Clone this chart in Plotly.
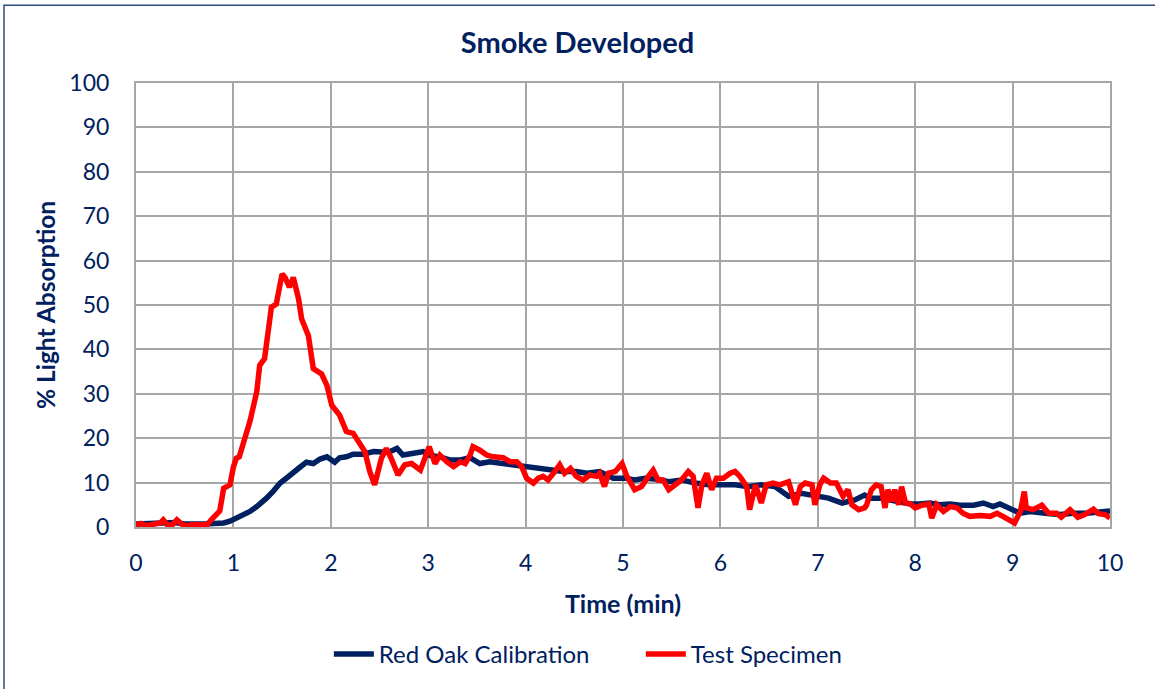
import plotly.graph_objects as go

# Red Oak Calibration
oak_t = [0.0, 0.1, 0.2, 0.3, 0.4, 0.5, 0.6, 0.7, 0.8, 0.9, 0.965, 1.07, 1.17, 1.24, 1.29, 1.34, 1.41, 1.48,
         1.55, 1.615, 1.68, 1.75, 1.82, 1.89, 1.96, 2.04, 2.09, 2.16, 2.23, 2.33, 2.44, 2.52, 2.61, 2.68,
         2.74, 2.85, 2.95, 3.02, 3.12, 3.22, 3.33, 3.43, 3.53, 3.63, 3.77, 3.87, 3.98, 4.08, 4.18, 4.28,
         4.39, 4.52, 4.63, 4.76, 4.90, 5.02, 5.12, 5.23, 5.33, 5.47, 5.60, 5.74, 5.88, 6.01, 6.15, 6.29,
         6.42, 6.56, 6.70, 6.83, 6.97, 7.11, 7.25, 7.38, 7.48, 7.54, 7.64, 7.74, 7.84, 7.95, 8.05, 8.15,
         8.25, 8.36, 8.46, 8.60, 8.70, 8.80, 8.87, 8.97, 9.08, 9.18, 9.28, 9.38, 9.49, 9.62, 9.76, 9.90, 10.0]
oak_v = [0.7, 0.8, 0.6, 0.9, 1.0, 0.7, 0.6, 0.7, 0.8, 0.9, 1.3, 2.4, 3.5, 4.6, 5.4, 6.5, 8.1, 9.9,
         11.1, 12.1, 13.4, 14.6, 14.3, 15.3, 15.8, 14.6, 15.6, 15.8, 16.4, 16.4, 17.0, 16.9, 17.0, 17.7,
         16.2, 16.6, 17.0, 16.1, 15.8, 15.1, 15.1, 15.6, 14.3, 14.7, 14.3, 14.0, 13.6, 13.2, 13.2, 12.8,
         12.5, 12.5, 12.1, 12.5, 11.0, 11.0, 10.6, 11.0, 10.8, 10.2, 10.6, 9.9, 9.5, 9.5, 9.5, 9.1,
         9.5, 9.1, 6.9, 7.6, 7.2, 6.5, 5.4, 6.1, 7.2, 6.5, 6.5, 6.1, 5.8, 5.2, 5.2, 5.4,
         5.0, 5.2, 4.9, 4.9, 5.4, 4.6, 5.2, 4.3, 3.1, 3.5, 3.1, 3.0, 2.8, 3.1, 3.1, 3.4, 3.6]

# Test Specimen
spec_t = [0.0, 0.05, 0.1, 0.15, 0.2, 0.25, 0.28, 0.32, 0.37, 0.42, 0.47, 0.52, 0.58, 0.63, 0.68, 0.73,
          0.78, 0.83, 0.86, 0.9, 0.965, 1.0, 1.03, 1.06, 1.12, 1.17, 1.24, 1.27, 1.32, 1.36, 1.39, 1.44,
          1.5, 1.53, 1.575, 1.615, 1.67, 1.70, 1.77, 1.82, 1.905, 1.96, 2.01, 2.09, 2.16, 2.23, 2.30,
          2.35, 2.40, 2.45, 2.52, 2.57, 2.62, 2.69, 2.76, 2.83, 2.92, 2.95, 3.01, 3.07, 3.12, 3.19, 3.26,
          3.33, 3.38, 3.43, 3.46, 3.53, 3.60, 3.67, 3.77, 3.84, 3.91, 3.96, 4.01, 4.08, 4.13, 4.18, 4.23,
          4.30, 4.35, 4.40, 4.46, 4.52, 4.59, 4.66, 4.73, 4.76, 4.81, 4.85, 4.92, 4.99, 5.04, 5.12, 5.19,
          5.26, 5.31, 5.36, 5.41, 5.47, 5.53, 5.60, 5.67, 5.72, 5.77, 5.81, 5.86, 5.91, 5.96, 6.03, 6.10,
          6.15, 6.20, 6.27, 6.30, 6.36, 6.42, 6.47, 6.54, 6.61, 6.70, 6.77, 6.82, 6.87, 6.94, 6.97, 7.02,
          7.06, 7.13, 7.19, 7.26, 7.31, 7.35, 7.42, 7.48, 7.50, 7.55, 7.60, 7.65, 7.69, 7.72, 7.76, 7.79,
          7.83, 7.86, 7.90, 7.95, 8.00, 8.07, 8.14, 8.17, 8.22, 8.29, 8.36, 8.43, 8.49, 8.56, 8.67, 8.77,
          8.84, 8.90, 8.97, 9.02, 9.08, 9.12, 9.14, 9.21, 9.30, 9.37, 9.45, 9.50, 9.59, 9.67, 9.74, 9.83,
          9.88, 9.95, 10.0]
spec_v = [0.4, 0.8, 0.3, 0.5, 0.4, 0.9, 1.6, 0.5, 0.4, 1.6, 0.6, 0.3, 0.5, 0.4, 0.6, 0.5,
          1.8, 2.8, 3.6, 8.7, 9.5, 13.5, 15.5, 15.8, 20.0, 23.8, 30.5, 36.4, 37.9, 45.4, 49.5, 50.2,
          57.0, 56.2, 54.0, 56.2, 51.3, 46.9, 43.1, 35.7, 34.5, 31.9, 27.4, 25.2, 21.5, 21.1, 18.5,
          17.0, 12.5, 9.5, 15.5, 17.7, 15.5, 11.7, 14.0, 14.3, 12.8, 14.7, 18.1, 14.3, 16.2, 14.7, 13.6,
          14.7, 14.3, 16.2, 18.1, 17.3, 16.2, 15.8, 15.6, 14.7, 14.7, 13.6, 11.0, 9.9, 11.0, 11.4, 10.6,
          12.5, 14.0, 12.1, 13.2, 11.4, 10.6, 11.7, 11.4, 12.1, 9.1, 12.1, 12.5, 14.3, 11.4, 8.4, 9.1,
          11.4, 12.8, 10.6, 10.6, 8.4, 9.5, 10.6, 12.5, 11.4, 4.3, 9.5, 12.1, 8.4, 11.0, 11.0, 12.1,
          12.5, 11.4, 9.1, 3.9, 9.5, 5.4, 9.5, 9.9, 9.5, 10.2, 5.0, 9.1, 9.9, 9.5, 5.0, 9.5,
          11.0, 9.9, 9.9, 6.9, 8.4, 5.0, 3.9, 4.3, 4.9, 8.4, 9.5, 9.1, 4.3, 8.4, 5.8, 8.4,
          5.0, 9.1, 5.4, 5.2, 4.3, 4.9, 5.2, 2.0, 5.0, 3.5, 4.6, 4.3, 3.1, 2.4, 2.6, 2.4,
          3.1, 2.4, 1.6, 0.9, 3.5, 8.0, 4.3, 3.9, 4.9, 3.1, 3.1, 2.2, 3.9, 2.2, 2.8, 4.0,
          3.0, 2.8, 2.0]

x_ticks = [0, 1, 2, 3, 4, 5, 6, 7, 8, 9, 10]
y_ticks = [0, 10, 20, 30, 40, 50, 60, 70, 80, 90, 100]

NAVY = "#002060"
RED = "#FF0000"
GRID = "#A6A6A6"
FONT = "Lato"

fig = go.Figure()
fig.add_trace(go.Scatter(x=oak_t, y=oak_v, mode="lines", name="Red Oak Calibration",
                         line=dict(color=NAVY, width=5.5)))
fig.add_trace(go.Scatter(x=spec_t, y=spec_v, mode="lines", name="Test Specimen",
                         line=dict(color=RED, width=5.5)))

fig.update_layout(
    width=1155, height=689,
    margin=dict(l=136, r=45, t=83, b=160),
    paper_bgcolor="white", plot_bgcolor="white",
    font=dict(family=FONT, color=NAVY, size=23),
    title=dict(text="<b>Smoke Developed</b>", x=0.5, xref="container", xanchor="center",
               y=1 - 43 / 689, yref="container", yanchor="middle",
               font=dict(family=FONT, size=29, color=NAVY)),
    showlegend=True,
    legend=dict(orientation="h", x=0.198, xanchor="left", y=-0.287, yanchor="middle",
                font=dict(family=FONT, size=24, color=NAVY), itemwidth=40,
                tracegroupgap=0, entrywidthmode="pixels", entrywidth=257),
)
fig.update_xaxes(
    range=[0, 10], tickvals=x_ticks, ticktext=[str(v) for v in x_ticks],
    showgrid=True, gridcolor=GRID, gridwidth=2,
    showline=True, linecolor=GRID, linewidth=2, mirror=True,
    ticks="", zeroline=False, ticklabelstandoff=14,
    tickfont=dict(family=FONT, size=23, color=NAVY),
    title=dict(text="<b>Time (min)</b>", standoff=21,
               font=dict(family=FONT, size=25, color=NAVY)),
)
fig.update_yaxes(
    range=[0, 100], tickvals=y_ticks, ticktext=[str(v) for v in y_ticks],
    showgrid=True, gridcolor=GRID, gridwidth=2,
    showline=True, linecolor=GRID, linewidth=2, mirror=True,
    ticks="", zeroline=False, ticklabelstandoff=20,
    tickfont=dict(family=FONT, size=23, color=NAVY),
    title=dict(text="<b>% Light Absorption</b>", standoff=7,
               font=dict(family=FONT, size=24.5, color=NAVY)),
)

# outer chart border
fig.add_shape(type="rect", xref="paper", yref="paper",
              x0=(4 - 136) / 974, x1=(1170 - 136) / 974,
              y0=(529 - 700) / 446, y1=(529 - 5) / 446,
              line=dict(color="#2F4A7F", width=1.5), fillcolor="rgba(0,0,0,0)", layer="below")

fig.write_html("out.html", config={"displayModeBar": False},
               post_script="document.body.style.margin='0px';")
